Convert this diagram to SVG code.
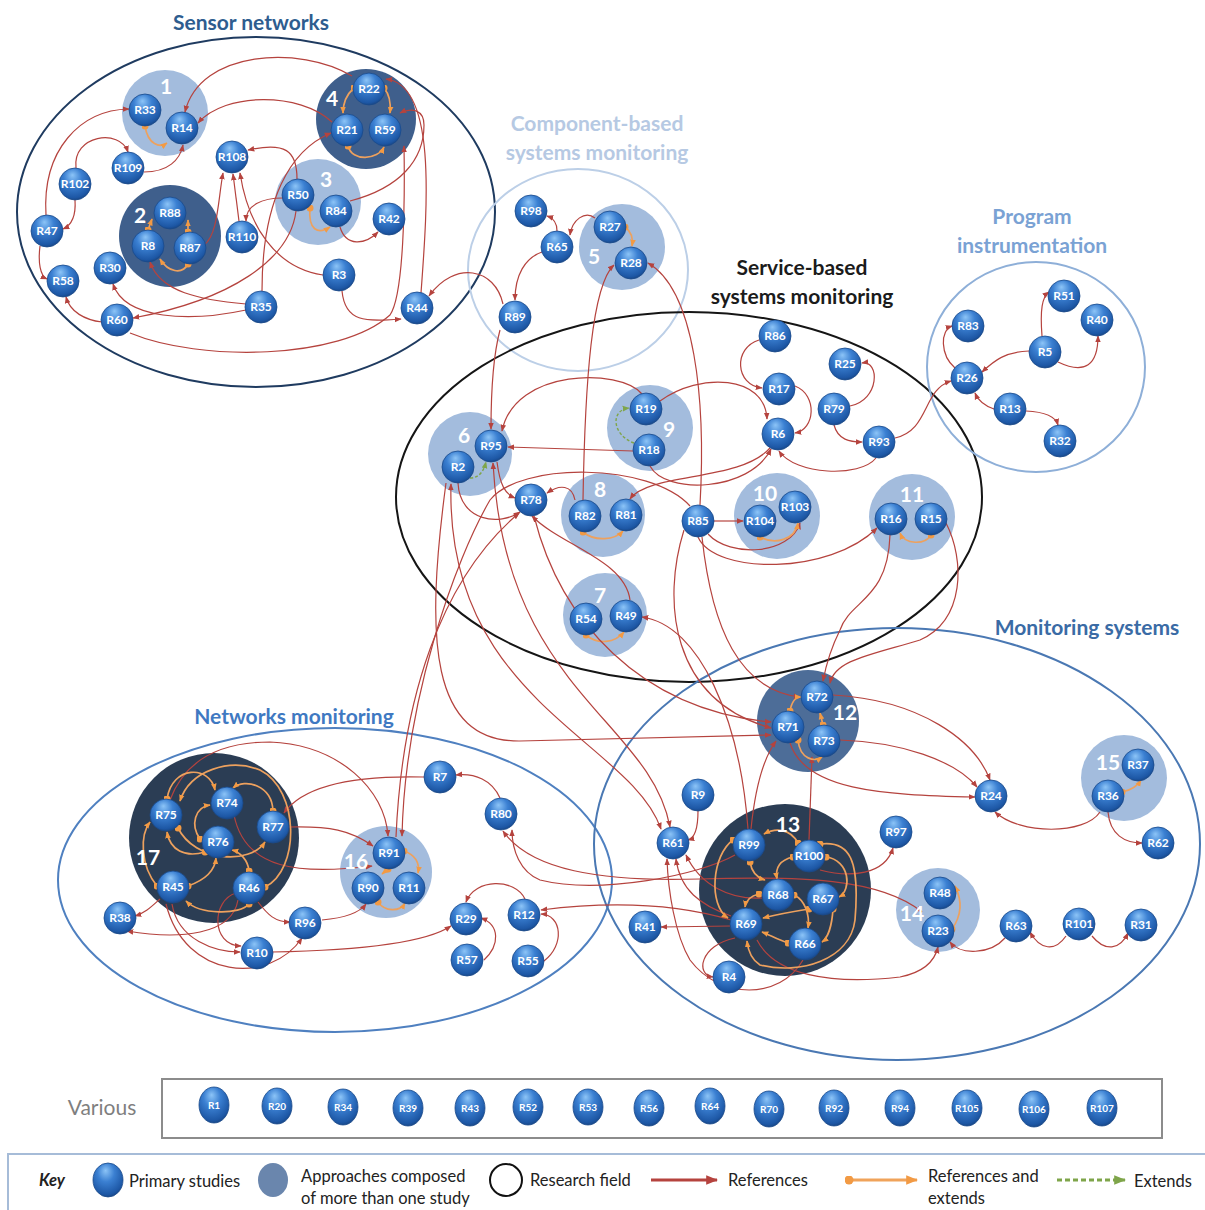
<svg xmlns="http://www.w3.org/2000/svg" width="1205" height="1210" viewBox="0 0 1205 1210">
<defs>
<radialGradient id="ball" cx="0.45" cy="0.35" r="0.7" fx="0.42" fy="0.22">
<stop offset="0" stop-color="#8cc4f7"/><stop offset="0.4" stop-color="#3b80d2"/><stop offset="0.85" stop-color="#1d57a5"/><stop offset="1" stop-color="#163f78"/>
</radialGradient>
<marker id="ar" viewBox="0 0 10 10" refX="9" refY="5" markerWidth="7" markerHeight="7" markerUnits="userSpaceOnUse" orient="auto-start-reverse"><path d="M0,1 L10,5 L0,9 z" fill="#b5433e"/></marker>
<marker id="ao" viewBox="0 0 10 10" refX="9" refY="5" markerWidth="7" markerHeight="7" markerUnits="userSpaceOnUse" orient="auto"><path d="M0,1 L10,5 L0,9 z" fill="#f29a44"/></marker>
<marker id="dot" viewBox="0 0 10 10" refX="5" refY="5" markerWidth="7" markerHeight="7" markerUnits="userSpaceOnUse"><circle cx="5" cy="5" r="5" fill="#f29a44"/></marker>
<marker id="ag" viewBox="0 0 10 10" refX="9" refY="5" markerWidth="7" markerHeight="7" markerUnits="userSpaceOnUse" orient="auto"><path d="M0,1 L10,5 L0,9 z" fill="#7fa54a"/></marker>
<marker id="ark" viewBox="0 0 10 10" refX="9" refY="5" markerWidth="12" markerHeight="12" markerUnits="userSpaceOnUse" orient="auto"><path d="M0,1 L10,5 L0,9 z" fill="#b5433e"/></marker>
<marker id="aok" viewBox="0 0 10 10" refX="9" refY="5" markerWidth="12" markerHeight="12" markerUnits="userSpaceOnUse" orient="auto"><path d="M0,1 L10,5 L0,9 z" fill="#f29a44"/></marker>
<marker id="dotk" viewBox="0 0 10 10" refX="5" refY="5" markerWidth="9" markerHeight="9" markerUnits="userSpaceOnUse"><circle cx="5" cy="5" r="5" fill="#f29a44"/></marker>
<marker id="agk" viewBox="0 0 10 10" refX="9" refY="5" markerWidth="12" markerHeight="12" markerUnits="userSpaceOnUse" orient="auto"><path d="M0,1 L10,5 L0,9 z" fill="#7fa54a"/></marker>
</defs>
<style>
.fld{fill:none;stroke-width:2}
.tt{font-family:Lato,"Open Sans","Liberation Sans",sans-serif;font-weight:bold;font-size:21px;text-anchor:middle}
.gl{fill:#a3bcdd}
.gd{fill:#3f5f8c}
.gm{fill:#4d6d98}
.gx{fill:#2b3d54}
.gn{font-family:Lato,"Open Sans","Liberation Sans",sans-serif;font-weight:bold;fill:#fff;font-size:21px;text-anchor:middle}
.n circle,.n ellipse{fill:url(#ball);stroke:#1b4a8a;stroke-width:0.8}
.n text{font-family:Lato,"Open Sans","Liberation Sans",sans-serif;font-weight:bold;font-size:12px;fill:#fff;text-anchor:middle}
.v text{font-size:10px}
#edges path{fill:none}
.r{stroke:#b5433e;stroke-width:1.2;marker-end:url(#ar)}
.rb{stroke:#b5433e;stroke-width:1.2;marker-end:url(#ar);marker-start:url(#ar)}
.o{stroke:#eda15e;stroke-width:1.7;marker-end:url(#ao);marker-start:url(#dot)}
.g{stroke:#7fa54a;stroke-width:1.4;stroke-dasharray:3 2;marker-end:url(#ag)}
.k{font-family:Lato,"Open Sans","Liberation Sans",sans-serif;font-size:16.5px;fill:#222}
</style>
<rect width="1205" height="1210" fill="#fff"/>

<g id="fields">
<g id="field-sensor"><ellipse class="fld" cx="256" cy="212" rx="239" ry="175" stroke="#1f3b60"/><text class="tt" x="251" y="30" fill="#2e5d8f" font-size="22">Sensor networks</text></g>
<g id="field-component"><ellipse class="fld" cx="578" cy="270" rx="110" ry="101" stroke="#bccfe7"/><text class="tt" x="597" y="131" fill="#b6c9e3">Component-based</text><text class="tt" x="597" y="160" fill="#b6c9e3">systems monitoring</text></g>
<g id="field-service"><ellipse class="fld" cx="689" cy="497" rx="293" ry="185" stroke="#151515" stroke-width="2.4"/><text class="tt" x="802" y="275" fill="#1b1b1b">Service-based</text><text class="tt" x="802" y="304" fill="#1b1b1b">systems monitoring</text></g>
<g id="field-program"><ellipse class="fld" cx="1036" cy="367" rx="109" ry="105" stroke="#8eafd8"/><text class="tt" x="1032" y="224" fill="#7aa2d4">Program</text><text class="tt" x="1032" y="253" fill="#7aa2d4">instrumentation</text></g>
<g id="field-networks"><ellipse class="fld" cx="335" cy="880" rx="277" ry="152" stroke="#4f80c0"/><text class="tt" x="294" y="724" fill="#3f79c2">Networks monitoring</text></g>
<g id="field-monitoring"><ellipse class="fld" cx="897" cy="844" rx="303" ry="216" stroke="#4a78b3"/><text class="tt" x="1087" y="635" fill="#3a6ba5">Monitoring systems</text></g>
</g>

<g id="groups">
<circle id="grp1" class="gl" cx="165" cy="113" r="43"/>
<circle id="grp2" class="gd" cx="170" cy="236" r="51"/>
<circle id="grp3" class="gl" cx="318" cy="202" r="43"/>
<circle id="grp4" class="gd" cx="366" cy="119" r="50"/>
<circle id="grp5" class="gl" cx="622" cy="247" r="43"/>
<circle id="grp6" class="gl" cx="470" cy="454" r="42"/>
<circle id="grp7" class="gl" cx="605" cy="615" r="42"/>
<circle id="grp8" class="gl" cx="603" cy="515" r="42"/>
<circle id="grp9" class="gl" cx="650" cy="428" r="43"/>
<circle id="grp10" class="gl" cx="777" cy="516" r="43"/>
<circle id="grp11" class="gl" cx="912" cy="517" r="43"/>
<circle id="grp12" class="gm" cx="808" cy="721" r="51"/>
<circle id="grp13" class="gx" cx="785" cy="890" r="86"/>
<circle id="grp14" class="gl" cx="938" cy="910" r="42"/>
<circle id="grp15" class="gl" cx="1124" cy="778" r="43"/>
<circle id="grp16" class="gl" cx="386" cy="872" r="46"/>
<circle id="grp17" class="gx" cx="214" cy="838" r="85"/>
</g>

<g id="edges">
<path class="r" d="M352,76 C300,45 200,50 185,112"/>
<path class="r" d="M332,122 C300,92 225,92 198,123"/>
<path class="r" d="M144,172 C168,172 180,160 183,145"/>
<path class="r" d="M46,215 C42,150 80,110 129,109"/>
<path class="r" d="M76,168 C72,135 120,128 128,152"/>
<path class="r" d="M75,200 C76,215 72,225 63,229"/>
<path class="r" d="M40,246 C38,262 40,276 47,279"/>
<path class="r" d="M102,322 C85,320 70,312 66,297"/>
<path class="r" d="M246,310 C190,322 125,320 113,284"/>
<path class="r" d="M246,304 C200,300 160,292 150,262"/>
<path class="r" d="M296,211 C290,260 230,300 133,318"/>
<path class="r" d="M262,291 C262,200 290,150 331,133"/>
<path class="r" d="M239,221 L233,174"/>
<path class="r" d="M204,245 C218,235 218,200 223,173"/>
<path class="r" d="M323,275 C275,268 248,225 240,173"/>
<path class="r" d="M297,179 C297,150 285,142 248,150"/>
<path class="r" d="M283,198 C262,198 246,205 246,221"/>
<path class="r" d="M340,227 C346,247 365,245 378,232"/>
<path class="r" d="M350,201 C400,188 424,160 424,125 C424,110 412,107 400,113"/>
<path class="r" d="M421,293 C428,200 436,85 386,79"/>
<path class="r" d="M130,333 C200,362 340,360 390,315 C404,295 405,200 404,146"/>
<path class="r" d="M342,291 C345,322 365,322 401,319"/>
<path class="r" d="M503,304 C495,268 455,260 429,296"/>
<path class="o" d="M145,126 C148,145 160,148 167,143"/>
<path class="o" d="M354,88 C346,95 343,103 343,113"/>
<path class="o" d="M384,88 C390,95 391,103 390,113"/>
<path class="o" d="M348,146 C352,162 378,160 384,147"/>
<path class="o" d="M148,230 L152,219"/>
<path class="o" d="M188,232 L188,220"/>
<path class="o" d="M188,264 C182,275 168,272 160,259"/>
<path class="o" d="M310,208 C308,230 318,235 330,227"/>

<path class="r" d="M595,218 C585,210 572,220 570,235"/>
<path class="r" d="M557,231 C557,222 553,218 547,216"/>
<path class="r" d="M542,252 C525,258 515,275 515,300"/>
<path class="r" d="M583,500 C585,380 592,285 614,265"/>
<path class="r" d="M700,505 C706,400 695,290 648,263"/>
<path class="r" d="M500,330 C492,360 491,400 491,429"/>
<path class="o" d="M625,227 C633,233 633,240 632,246"/>

<path class="r" d="M759,340 C733,348 735,385 762,388"/>
<path class="r" d="M795,386 C818,395 815,430 795,433"/>
<path class="r" d="M850,406 C880,400 880,360 862,363"/>
<path class="r" d="M834,425 C838,440 850,442 862,442"/>
<path class="r" d="M876,458 C860,478 795,475 779,451"/>
<path class="r" d="M895,438 C930,430 922,390 951,381"/>
<path class="r" d="M660,401 C700,372 765,375 767,419"/>
<path class="r" d="M642,394 C620,368 515,368 502,431"/>
<path class="r" d="M633,451 L508,447"/>
<path class="r" d="M650,466 C665,495 750,492 771,449"/>
<path class="r" d="M497,462 C500,485 505,494 515,498"/>
<path class="r" d="M458,483 C460,522 500,526 520,512"/>
<path class="r" d="M575,500 C572,485 560,484 547,493"/>
<path class="r" d="M770,448 C740,482 650,472 630,499"/>
<path class="r" d="M714,521 L743,521"/>
<path class="r" d="M708,534 C730,558 790,555 800,523"/>
<path class="r" d="M698,537 C715,575 830,575 877,528"/>
<path class="r" d="M630,600 C625,560 560,545 532,516"/>
<path class="g" d="M634,443 C612,435 610,410 629,408"/>
<path class="g" d="M470,478 C480,478 484,470 486,462"/>
<path class="o" d="M760,537 C775,545 795,540 798,523"/>
<path class="o" d="M583,532 C595,542 615,540 623,531"/>
<path class="o" d="M931,535 C925,545 905,545 900,533"/>
<path class="o" d="M586,635 C598,645 615,643 624,632"/>

<path class="r" d="M690,506 C650,462 520,462 490,500 C455,560 405,700 402,836"/>
<path class="r" d="M396,837 C402,700 440,580 519,513"/>
<path class="rb" d="M661,829 C630,740 445,700 451,484"/>
<path class="rb" d="M670,827 C650,720 505,690 493,463"/>
<path class="r" d="M446,483 C425,640 430,742 520,741 L771,735"/>
<path class="r" d="M534,516 C560,620 640,710 771,722"/>
<path class="r" d="M702,537 C712,630 740,690 800,697"/>
<path class="r" d="M684,530 C662,600 670,700 771,728"/>
<path class="r" d="M890,535 C888,600 850,600 840,630 C830,650 826,665 823,681"/>
<path class="r" d="M946,523 C965,560 965,620 920,640 C870,655 835,660 830,683"/>
<path class="r" d="M748,829 C740,720 700,625 642,617"/>
<path class="r" d="M751,829 C755,790 762,760 776,741"/>
<path class="r" d="M809,840 L812,757"/>

<path class="r" d="M833,695 C920,700 975,740 990,780"/>
<path class="r" d="M840,740 C900,742 955,760 977,787"/>
<path class="r" d="M790,743 C805,790 880,795 975,797"/>
<path class="o" d="M790,711 C792,700 796,697 801,697"/>
<path class="o" d="M823,725 L820,713"/>
<path class="o" d="M798,740 C800,760 815,762 822,757"/>
<path class="r" d="M1100,812 C1085,835 1020,835 995,812"/>
<path class="r" d="M1108,812 C1110,835 1125,843 1142,843"/>
<path class="o" d="M1122,792 C1132,790 1138,785 1141,780"/>
<path class="r" d="M698,811 C698,828 695,838 688,840"/>
<path class="r" d="M820,870 C850,878 885,875 893,848"/>
<path class="rb" d="M922,912 C880,878 800,876 700,879 C600,882 530,870 503,831"/>
<path class="r" d="M735,855 C700,875 600,895 540,880 C520,872 512,850 512,830"/>
<path class="r" d="M731,920 C680,905 620,900 541,910"/>
<path class="r" d="M730,926 L661,927"/>
<path class="r" d="M731,916 C700,905 680,890 676,859"/>
<path class="r" d="M762,898 C730,900 700,885 686,855"/>
<path class="r" d="M735,938 C700,945 695,975 713,977"/>
<path class="r" d="M803,960 C780,1000 720,1000 690,960 C675,935 668,890 667,859"/>
<path class="r" d="M757,940 C775,975 830,985 900,977 C925,972 935,960 938,947"/>
<path class="r" d="M1005,938 C990,955 960,955 950,942"/>
<path class="r" d="M1066,936 C1055,952 1040,950 1030,932"/>
<path class="r" d="M1092,936 C1105,952 1120,950 1128,933"/>
<path class="o" d="M952,929 C962,915 962,900 955,886"/>
<path class="o" d="M798,843 C790,828 775,828 764,834"/>
<path class="o" d="M750,862 C752,874 758,878 765,880"/>
<path class="o" d="M793,857 C780,860 775,868 777,879"/>
<path class="o" d="M826,857 C850,860 852,890 839,897"/>
<path class="o" d="M820,844 C850,840 860,860 855,920 C850,960 800,975 760,965 C752,960 748,950 747,941"/>
<path class="o" d="M733,840 C712,855 708,905 728,918"/>
<path class="o" d="M759,894 C750,896 746,900 745,907"/>
<path class="o" d="M794,895 C805,900 810,915 808,928"/>
<path class="o" d="M809,909 C790,912 775,915 763,918"/>
<path class="o" d="M788,943 C778,940 770,935 762,932"/>
<path class="o" d="M833,909 C832,925 828,938 822,942"/>

<path class="r" d="M170,800 C185,760 220,742 270,742 C340,745 385,790 388,836"/>
<path class="r" d="M424,777 C340,775 300,790 284,813"/>
<path class="r" d="M289,827 C330,826 350,830 373,846"/>
<path class="r" d="M234,815 C245,870 300,875 372,866"/>
<path class="r" d="M160,899 C150,908 145,913 135,916"/>
<path class="r" d="M238,900 C232,935 180,940 127,931"/>
<path class="r" d="M172,904 C178,940 215,952 240,952"/>
<path class="r" d="M166,904 C185,980 270,985 302,938"/>
<path class="r" d="M236,893 C212,900 210,945 241,946"/>
<path class="r" d="M258,902 C268,915 275,922 290,922"/>
<path class="r" d="M322,920 C345,918 360,912 366,904"/>
<path class="r" d="M272,952 C380,950 430,940 451,926"/>
<path class="r" d="M500,798 C492,780 475,773 456,775"/>
<path class="r" d="M525,899 C515,878 475,878 466,902"/>
<path class="r" d="M484,960 C500,945 500,925 481,918"/>
<path class="r" d="M544,961 C565,945 562,915 541,914"/>
<path class="o" d="M167,799 C172,765 210,765 215,790"/>
<path class="o" d="M273,811 C272,785 245,778 233,788"/>
<path class="o" d="M157,886 C140,865 140,835 150,822"/>
<path class="o" d="M265,887 C300,870 300,790 260,770 C230,758 190,770 180,801"/>
<path class="o" d="M200,839 C190,825 195,807 210,805"/>
<path class="o" d="M178,828 C195,862 250,865 265,842"/>
<path class="o" d="M205,852 C185,858 170,850 167,832"/>
<path class="o" d="M249,871 C248,860 240,852 232,850"/>
<path class="o" d="M188,886 C205,880 215,870 216,858"/>
<path class="o" d="M249,904 C240,915 200,915 186,901"/>
<path class="o" d="M404,851 C415,855 420,862 418,873"/>
<path class="o" d="M388,869 L382,874"/>
<path class="o" d="M378,902 C385,912 400,912 405,903"/>

<path class="r" d="M1042,336 C1040,310 1042,297 1049,292"/>
<path class="r" d="M1058,362 C1085,375 1098,365 1098,336"/>
<path class="r" d="M1029,351 C1005,352 995,360 982,372"/>
<path class="r" d="M955,368 C940,355 940,330 952,326"/>
<path class="r" d="M994,409 C985,406 978,400 975,393"/>
<path class="r" d="M1026,411 C1048,412 1056,418 1058,425"/>
</g>

<g id="nodes">
<g id="R33" class="n" transform="translate(145,110)"><circle r="16"/><text y="4">R33</text></g>
<g id="R14" class="n" transform="translate(182,128)"><circle r="16"/><text y="4">R14</text></g>
<g id="R22" class="n" transform="translate(369,89)"><circle r="16"/><text y="4">R22</text></g>
<g id="R21" class="n" transform="translate(347,130)"><circle r="16"/><text y="4">R21</text></g>
<g id="R59" class="n" transform="translate(385,130)"><circle r="16"/><text y="4">R59</text></g>
<g id="R108" class="n" transform="translate(232,157)"><circle r="16"/><text y="4">R108</text></g>
<g id="R109" class="n" transform="translate(128,168)"><circle r="16"/><text y="4">R109</text></g>
<g id="R102" class="n" transform="translate(75,184)"><circle r="16"/><text y="4">R102</text></g>
<g id="R50" class="n" transform="translate(298,195)"><circle r="16"/><text y="4">R50</text></g>
<g id="R84" class="n" transform="translate(336,211)"><circle r="16"/><text y="4">R84</text></g>
<g id="R42" class="n" transform="translate(389,219)"><circle r="16"/><text y="4">R42</text></g>
<g id="R47" class="n" transform="translate(47,231)"><circle r="16"/><text y="4">R47</text></g>
<g id="R88" class="n" transform="translate(170,213)"><circle r="16"/><text y="4">R88</text></g>
<g id="R8" class="n" transform="translate(148,246)"><circle r="16"/><text y="4">R8</text></g>
<g id="R87" class="n" transform="translate(190,248)"><circle r="16"/><text y="4">R87</text></g>
<g id="R110" class="n" transform="translate(242,237)"><circle r="16"/><text y="4">R110</text></g>
<g id="R30" class="n" transform="translate(110,268)"><circle r="16"/><text y="4">R30</text></g>
<g id="R58" class="n" transform="translate(63,281)"><circle r="16"/><text y="4">R58</text></g>
<g id="R3" class="n" transform="translate(339,275)"><circle r="16"/><text y="4">R3</text></g>
<g id="R35" class="n" transform="translate(261,307)"><circle r="16"/><text y="4">R35</text></g>
<g id="R44" class="n" transform="translate(417,308)"><circle r="16"/><text y="4">R44</text></g>
<g id="R60" class="n" transform="translate(117,320)"><circle r="16"/><text y="4">R60</text></g>

<g id="R98" class="n" transform="translate(531,211)"><circle r="16"/><text y="4">R98</text></g>
<g id="R65" class="n" transform="translate(557,247)"><circle r="16"/><text y="4">R65</text></g>
<g id="R27" class="n" transform="translate(610,227)"><circle r="16"/><text y="4">R27</text></g>
<g id="R28" class="n" transform="translate(631,263)"><circle r="16"/><text y="4">R28</text></g>
<g id="R89" class="n" transform="translate(515,317)"><circle r="16"/><text y="4">R89</text></g>

<g id="R86" class="n" transform="translate(775,336)"><circle r="16"/><text y="4">R86</text></g>
<g id="R25" class="n" transform="translate(845,364)"><circle r="16"/><text y="4">R25</text></g>
<g id="R17" class="n" transform="translate(779,389)"><circle r="16"/><text y="4">R17</text></g>
<g id="R79" class="n" transform="translate(834,409)"><circle r="16"/><text y="4">R79</text></g>
<g id="R6" class="n" transform="translate(778,434)"><circle r="16"/><text y="4">R6</text></g>
<g id="R93" class="n" transform="translate(879,442)"><circle r="16"/><text y="4">R93</text></g>
<g id="R19" class="n" transform="translate(646,409)"><circle r="16"/><text y="4">R19</text></g>
<g id="R18" class="n" transform="translate(649,450)"><circle r="16"/><text y="4">R18</text></g>
<g id="R95" class="n" transform="translate(491,446)"><circle r="16"/><text y="4">R95</text></g>
<g id="R2" class="n" transform="translate(458,467)"><circle r="16"/><text y="4">R2</text></g>
<g id="R78" class="n" transform="translate(531,500)"><circle r="16"/><text y="4">R78</text></g>
<g id="R82" class="n" transform="translate(585,516)"><circle r="16"/><text y="4">R82</text></g>
<g id="R81" class="n" transform="translate(626,515)"><circle r="16"/><text y="4">R81</text></g>
<g id="R85" class="n" transform="translate(698,521)"><circle r="16"/><text y="4">R85</text></g>
<g id="R104" class="n" transform="translate(760,521)"><circle r="16"/><text y="4">R104</text></g>
<g id="R103" class="n" transform="translate(795,507)"><circle r="16"/><text y="4">R103</text></g>
<g id="R16" class="n" transform="translate(891,519)"><circle r="16"/><text y="4">R16</text></g>
<g id="R15" class="n" transform="translate(931,519)"><circle r="16"/><text y="4">R15</text></g>
<g id="R54" class="n" transform="translate(586,619)"><circle r="16"/><text y="4">R54</text></g>
<g id="R49" class="n" transform="translate(626,616)"><circle r="16"/><text y="4">R49</text></g>

<g id="R83" class="n" transform="translate(968,326)"><circle r="16"/><text y="4">R83</text></g>
<g id="R51" class="n" transform="translate(1064,296)"><circle r="16"/><text y="4">R51</text></g>
<g id="R40" class="n" transform="translate(1097,320)"><circle r="16"/><text y="4">R40</text></g>
<g id="R5" class="n" transform="translate(1045,352)"><circle r="16"/><text y="4">R5</text></g>
<g id="R26" class="n" transform="translate(967,378)"><circle r="16"/><text y="4">R26</text></g>
<g id="R13" class="n" transform="translate(1010,409)"><circle r="16"/><text y="4">R13</text></g>
<g id="R32" class="n" transform="translate(1060,441)"><circle r="16"/><text y="4">R32</text></g>

<g id="R72" class="n" transform="translate(817,697)"><circle r="16"/><text y="4">R72</text></g>
<g id="R71" class="n" transform="translate(788,727)"><circle r="16"/><text y="4">R71</text></g>
<g id="R73" class="n" transform="translate(824,741)"><circle r="16"/><text y="4">R73</text></g>
<g id="R24" class="n" transform="translate(991,796)"><circle r="16"/><text y="4">R24</text></g>
<g id="R37" class="n" transform="translate(1138,765)"><circle r="16"/><text y="4">R37</text></g>
<g id="R36" class="n" transform="translate(1108,796)"><circle r="16"/><text y="4">R36</text></g>
<g id="R62" class="n" transform="translate(1158,843)"><circle r="16"/><text y="4">R62</text></g>
<g id="R9" class="n" transform="translate(698,795)"><circle r="16"/><text y="4">R9</text></g>
<g id="R61" class="n" transform="translate(673,843)"><circle r="16"/><text y="4">R61</text></g>
<g id="R97" class="n" transform="translate(896,832)"><circle r="16"/><text y="4">R97</text></g>
<g id="R99" class="n" transform="translate(749,845)"><circle r="16"/><text y="4">R99</text></g>
<g id="R100" class="n" transform="translate(809,856)"><circle r="16"/><text y="4">R100</text></g>
<g id="R68" class="n" transform="translate(778,895)"><circle r="16"/><text y="4">R68</text></g>
<g id="R67" class="n" transform="translate(823,899)"><circle r="16"/><text y="4">R67</text></g>
<g id="R69" class="n" transform="translate(746,924)"><circle r="16"/><text y="4">R69</text></g>
<g id="R66" class="n" transform="translate(805,944)"><circle r="16"/><text y="4">R66</text></g>
<g id="R41" class="n" transform="translate(645,927)"><circle r="16"/><text y="4">R41</text></g>
<g id="R4" class="n" transform="translate(729,977)"><circle r="16"/><text y="4">R4</text></g>
<g id="R48" class="n" transform="translate(940,893)"><circle r="16"/><text y="4">R48</text></g>
<g id="R23" class="n" transform="translate(938,931)"><circle r="16"/><text y="4">R23</text></g>
<g id="R63" class="n" transform="translate(1016,926)"><circle r="16"/><text y="4">R63</text></g>
<g id="R101" class="n" transform="translate(1079,924)"><circle r="16"/><text y="4">R101</text></g>
<g id="R31" class="n" transform="translate(1141,925)"><circle r="16"/><text y="4">R31</text></g>

<g id="R7" class="n" transform="translate(440,777)"><circle r="16"/><text y="4">R7</text></g>
<g id="R80" class="n" transform="translate(501,814)"><circle r="16"/><text y="4">R80</text></g>
<g id="R75" class="n" transform="translate(166,815)"><circle r="16"/><text y="4">R75</text></g>
<g id="R74" class="n" transform="translate(227,803)"><circle r="16"/><text y="4">R74</text></g>
<g id="R77" class="n" transform="translate(273,827)"><circle r="16"/><text y="4">R77</text></g>
<g id="R76" class="n" transform="translate(218,842)"><circle r="16"/><text y="4">R76</text></g>
<g id="R45" class="n" transform="translate(173,887)"><circle r="16"/><text y="4">R45</text></g>
<g id="R46" class="n" transform="translate(249,888)"><circle r="16"/><text y="4">R46</text></g>
<g id="R38" class="n" transform="translate(120,918)"><circle r="16"/><text y="4">R38</text></g>
<g id="R96" class="n" transform="translate(305,923)"><circle r="16"/><text y="4">R96</text></g>
<g id="R10" class="n" transform="translate(257,953)"><circle r="16"/><text y="4">R10</text></g>
<g id="R91" class="n" transform="translate(389,853)"><circle r="16"/><text y="4">R91</text></g>
<g id="R90" class="n" transform="translate(368,888)"><circle r="16"/><text y="4">R90</text></g>
<g id="R11" class="n" transform="translate(409,888)"><circle r="16"/><text y="4">R11</text></g>
<g id="R29" class="n" transform="translate(466,919)"><circle r="16"/><text y="4">R29</text></g>
<g id="R12" class="n" transform="translate(524,915)"><circle r="16"/><text y="4">R12</text></g>
<g id="R57" class="n" transform="translate(467,960)"><circle r="16"/><text y="4">R57</text></g>
<g id="R55" class="n" transform="translate(528,961)"><circle r="16"/><text y="4">R55</text></g>
</g>

<g id="group-labels">
<text class="gn" x="166" y="94">1</text>
<text class="gn" x="140" y="223">2</text>
<text class="gn" x="326" y="187">3</text>
<text class="gn" x="332" y="106">4</text>
<text class="gn" x="594" y="264">5</text>
<text class="gn" x="464" y="443">6</text>
<text class="gn" x="600" y="603">7</text>
<text class="gn" x="600" y="497">8</text>
<text class="gn" x="669" y="437">9</text>
<text class="gn" x="765" y="501">10</text>
<text class="gn" x="912" y="502">11</text>
<text class="gn" x="845" y="720" font-size="24">12</text>
<text class="gn" x="788" y="832" font-size="24">13</text>
<text class="gn" x="912" y="921" font-size="24">14</text>
<text class="gn" x="1108" y="770" font-size="24">15</text>
<text class="gn" x="356" y="869" font-size="24">16</text>
<text class="gn" x="148" y="865" font-size="24">17</text>
</g>

<g id="various">
<rect x="162" y="1079" width="1000" height="59" fill="#fff" stroke="#8c8c8c" stroke-width="2"/>
<text x="102" y="1115" font-family="Lato,'Open Sans','Liberation Sans',sans-serif" font-size="21" fill="#7f7f7f" text-anchor="middle">Various</text>
<g id="R1" class="n v" transform="translate(214,1105)"><ellipse rx="15" ry="18"/><text y="4">R1</text></g>
<g id="R20" class="n v" transform="translate(277,1106)"><ellipse rx="15" ry="18"/><text y="4">R20</text></g>
<g id="R34" class="n v" transform="translate(343,1107)"><ellipse rx="15" ry="18"/><text y="4">R34</text></g>
<g id="R39" class="n v" transform="translate(408,1108)"><ellipse rx="15" ry="18"/><text y="4">R39</text></g>
<g id="R43" class="n v" transform="translate(470,1108)"><ellipse rx="15" ry="18"/><text y="4">R43</text></g>
<g id="R52" class="n v" transform="translate(528,1107)"><ellipse rx="15" ry="18"/><text y="4">R52</text></g>
<g id="R53" class="n v" transform="translate(588,1107)"><ellipse rx="15" ry="18"/><text y="4">R53</text></g>
<g id="R56" class="n v" transform="translate(649,1108)"><ellipse rx="15" ry="18"/><text y="4">R56</text></g>
<g id="R64" class="n v" transform="translate(710,1106)"><ellipse rx="15" ry="18"/><text y="4">R64</text></g>
<g id="R70" class="n v" transform="translate(769,1109)"><ellipse rx="15" ry="18"/><text y="4">R70</text></g>
<g id="R92" class="n v" transform="translate(834,1108)"><ellipse rx="15" ry="18"/><text y="4">R92</text></g>
<g id="R94" class="n v" transform="translate(900,1108)"><ellipse rx="15" ry="18"/><text y="4">R94</text></g>
<g id="R105" class="n v" transform="translate(967,1108)"><ellipse rx="15" ry="18"/><text y="4">R105</text></g>
<g id="R106" class="n v" transform="translate(1034,1109)"><ellipse rx="15" ry="18"/><text y="4">R106</text></g>
<g id="R107" class="n v" transform="translate(1102,1108)"><ellipse rx="15" ry="18"/><text y="4">R107</text></g>
</g>

<g id="key">
<rect x="8" y="1154" width="1205" height="62" fill="#fff" stroke="#a6bcd8" stroke-width="2"/>
<text class="k" x="52" y="1186" text-anchor="middle" font-weight="bold" font-style="italic">Key</text>
<g class="n"><ellipse cx="108" cy="1180" rx="15" ry="17"/></g>
<text class="k" x="129" y="1187">Primary studies</text>
<ellipse cx="273" cy="1180" rx="15" ry="17" fill="#6a86ad"/>
<text class="k" x="301" y="1182">Approaches composed</text>
<text class="k" x="301" y="1204">of more than one study</text>
<circle cx="506" cy="1180" r="16" fill="#fff" stroke="#111" stroke-width="2"/>
<text class="k" x="530" y="1186">Research field</text>
<path d="M651,1180 L717,1180" stroke="#b5433e" stroke-width="3" fill="none" marker-end="url(#ark)"/>
<text class="k" x="728" y="1186">References</text>
<path d="M849,1180 L917,1180" stroke="#f0a35a" stroke-width="3" fill="none" marker-end="url(#aok)" marker-start="url(#dotk)"/>
<text class="k" x="928" y="1182">References and</text>
<text class="k" x="928" y="1204">extends</text>
<path d="M1057,1180 L1125,1180" stroke="#7fa54a" stroke-width="3" stroke-dasharray="5 3" fill="none" marker-end="url(#agk)"/>
<text class="k" x="1134" y="1187">Extends</text>
</g>
</svg>
